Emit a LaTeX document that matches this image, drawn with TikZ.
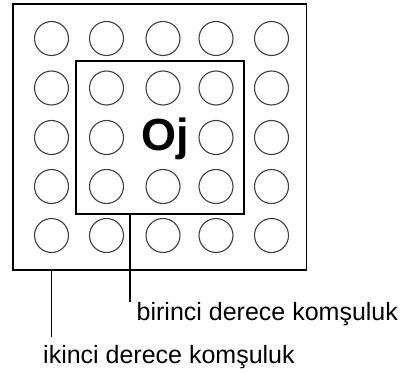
\documentclass[tikz,border=0pt]{standalone}
\usepackage{fontspec}
\setmainfont{Liberation Sans}
\begin{document}
\begin{tikzpicture}[x=1pt,y=-1pt,
  cell/.style={circle,draw=black!75,line width=1.1pt,minimum size=34pt,inner sep=0pt},
  zone/.style={draw=black,line width=1.6pt,inner sep=0pt},
  lead/.style={draw=black,line width=1.4pt},
  caption/.style={anchor=base west,inner sep=0pt,font=\fontsize{25}{25}\selectfont}]
\useasboundingbox (0,0) rectangle (401,374);
% neighbourhood frames
\node[zone,minimum width=293.5pt,minimum height=266pt] (outer) at (159.7,137.2) {};
\node[zone,minimum width=168pt,minimum height=153pt] (inner) at (160,137.4) {};
% 5x5 grid of cells, the centre one is the labelled cell
\foreach \c/\x in {1/51.5,2/106.5,3/163,4/216,5/271.5}{
  \foreach \r/\y in {1/38.5,2/88,3/137.5,4/186.5,5/235.5}{
    \ifnum\c=3 \ifnum\r=3 \else
      \node[cell] (c-\r-\c) at (\x,\y) {};
    \fi\else
      \node[cell] (c-\r-\c) at (\x,\y) {};
    \fi
  }
}
\node[anchor=base,inner sep=0pt,font=\fontsize{45}{45}\bfseries\selectfont] (oj) at (165,150) {Oj};
% captions and leaders
\node[caption] (first) at (136.5,320) {birinci derece komşuluk};
\node[caption] (second) at (43,363) {ikinci derece komşuluk};
\coordinate (firstend) at (130,302);
\coordinate (secondend) at (51.7,337);
\draw[lead] (inner.south -| firstend) -- (firstend);
\draw[lead] (outer.south -| secondend) -- (secondend);
\end{tikzpicture}
\end{document}
